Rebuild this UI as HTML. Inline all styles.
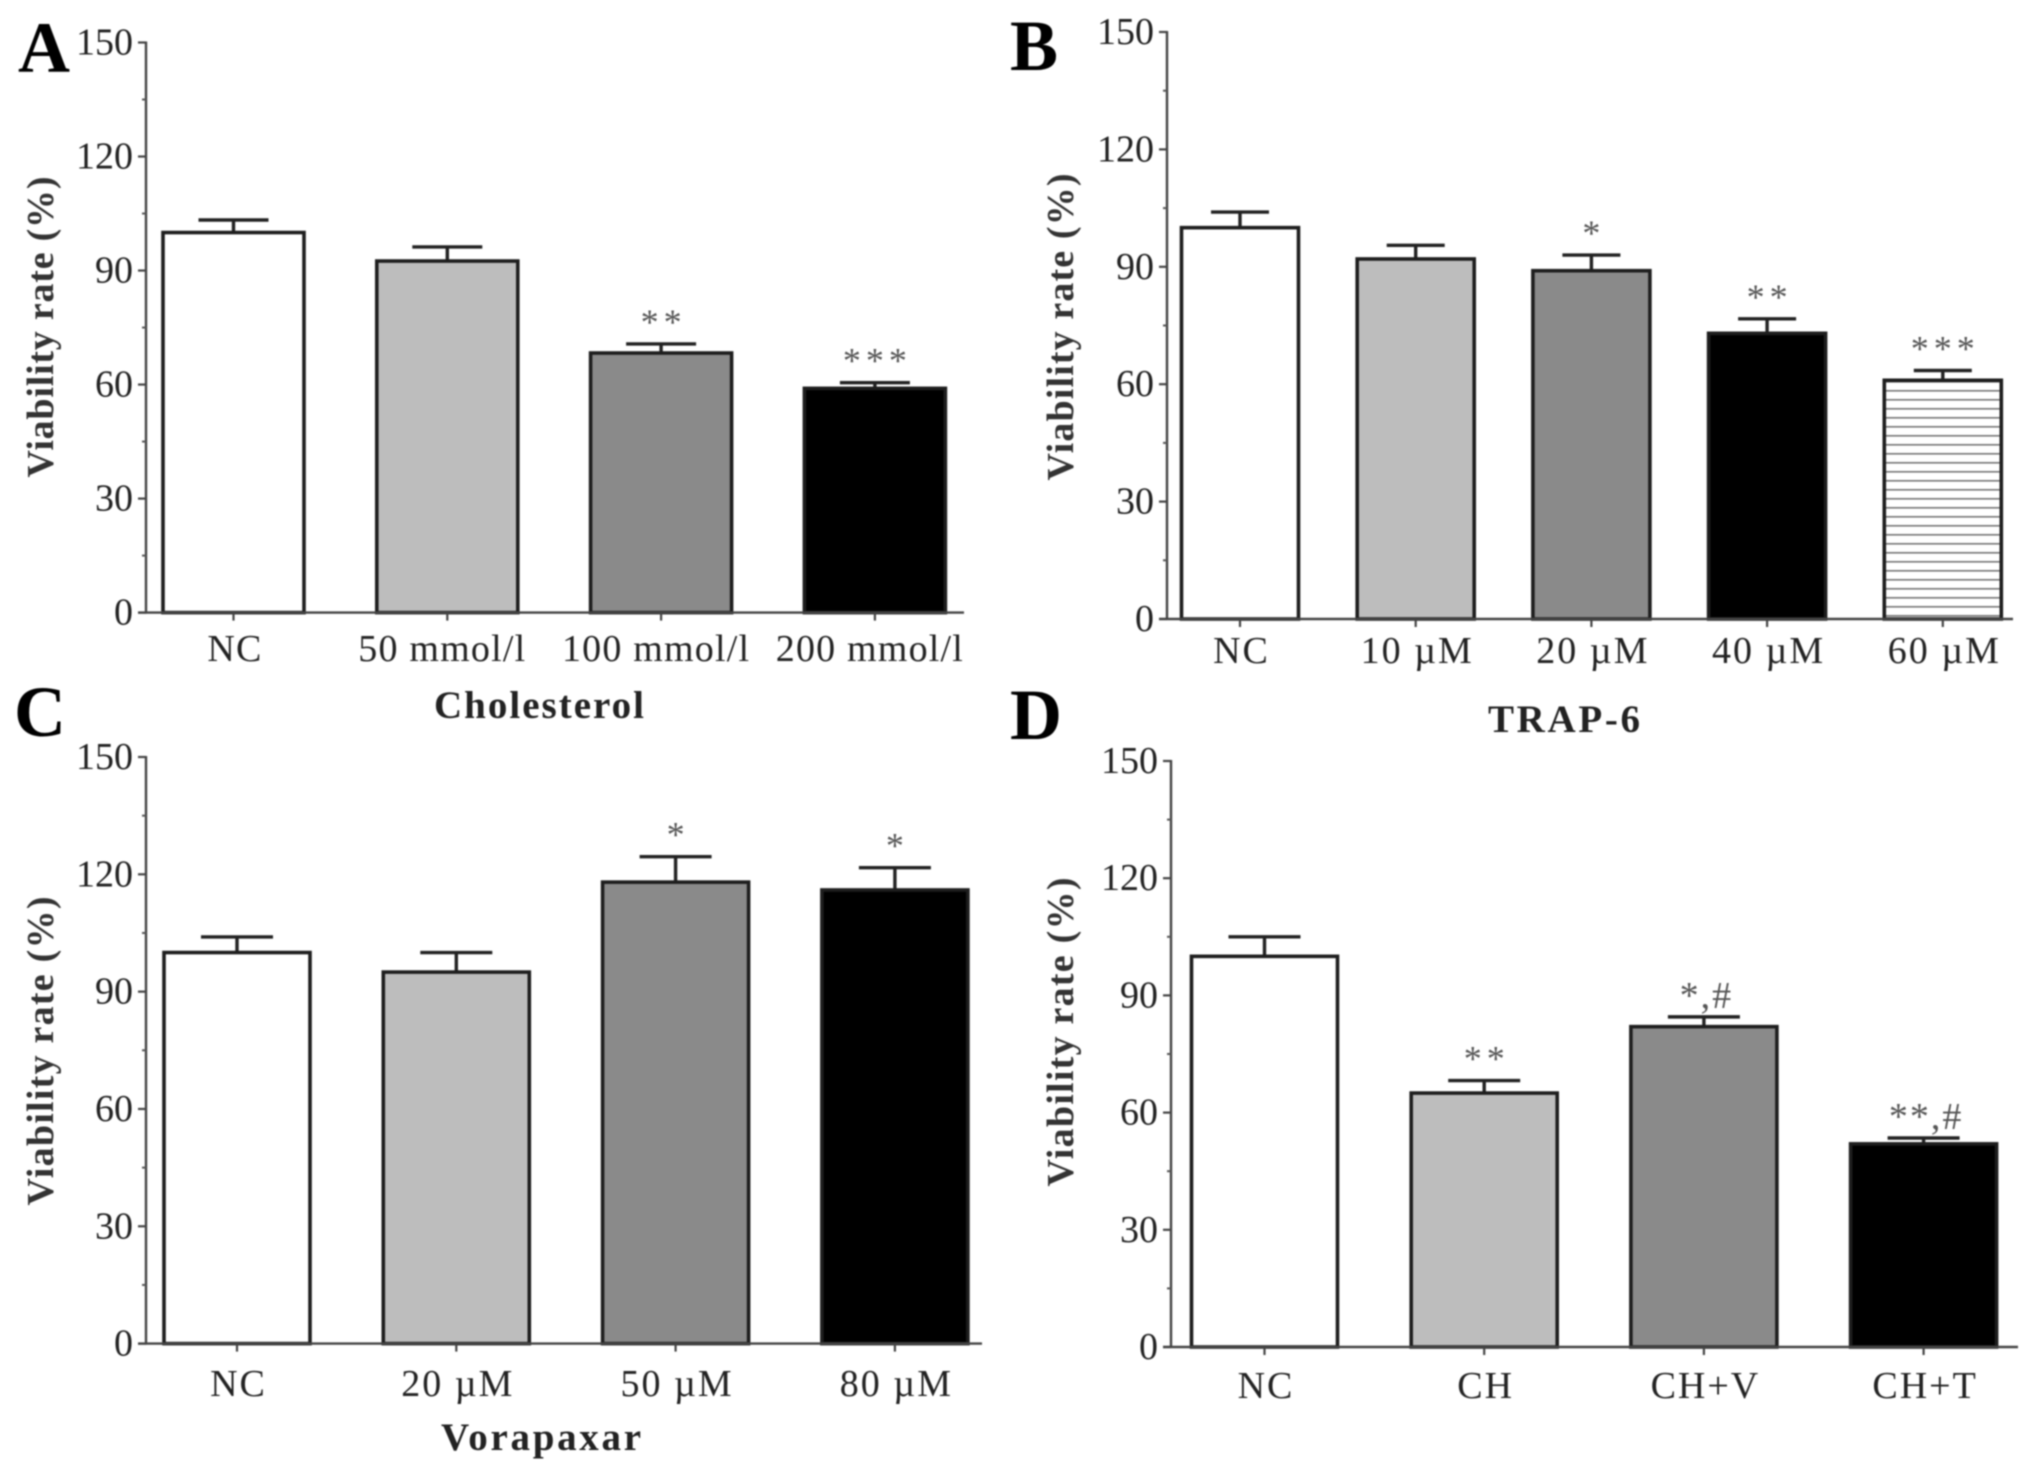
<!DOCTYPE html>
<html lang="en">
<head>
<meta charset="utf-8">
<title>Viability rate bar charts</title>
<style>
html,body{margin:0;padding:0;background:#fff;width:2031px;height:1473px;overflow:hidden}
svg{display:block;filter:blur(0.7px)}
text{font-family:"Liberation Serif",serif}
</style>
</head>
<body>
<svg id="fig" xmlns="http://www.w3.org/2000/svg" width="2031" height="1473" viewBox="0 0 2031 1473">
<defs>
<pattern id="hatch" patternUnits="userSpaceOnUse" width="9" height="9">
<rect width="9" height="9" fill="#ffffff"></rect>
<rect y="3" width="9" height="1.6" fill="#777777"></rect>
</pattern>
</defs>
</svg>
<script>
// Shared axis ticks
var yTickValues = [0, 30, 60, 90, 120, 150];
var yMinorTickValues = [15, 45, 75, 105, 135];

// Panel A
var categoriesA = ["NC", "50 mmol/l", "100 mmol/l", "200 mmol/l"];
var valuesA = [100, 92.5, 68.3, 59];
var errorsA = [3.3, 3.7, 2.4, 1.5];
var marksA = ["", "", "**", "***"];

// Panel B
var categoriesB = ["NC", "10 µM", "20 µM", "40 µM", "60 µM"];
var valuesB = [100, 92, 89, 73, 61];
var errorsB = [4, 3.5, 4, 3.7, 2.5];
var marksB = ["", "", "*", "**", "***"];

// Panel C
var categoriesC = ["NC", "20 µM", "50 µM", "80 µM"];
var valuesC = [100, 95, 118, 116];
var errorsC = [4, 5, 6.5, 5.7];
var marksC = ["", "", "*", "*"];

// Panel D
var categoriesD = ["NC", "CH", "CH+V", "CH+T"];
var valuesD = [100, 65, 82, 52];
var errorsD = [5, 3.2, 2.5, 1.5];
var marksD = ["", "**", "*,#", "**,#"];

var barFills = ["#ffffff", "#bdbdbd", "#8a8a8a", "#000000", "url(#hatch)"];

var panels = [
  {id:"a", letter:"A", letterX:18, letterY:72, axisX:146, y0:612.6, y150:42.5, right:964,
   first:233.5, step:213.8, barW:141, cats:categoriesA, vals:valuesA, errs:errorsA, marks:marksA,
   capHalf:35, labelY:661, labelFont:38, labelSpacing:1.2,
   yTitleX:53, yTitleY:327, yTitleLen:301, xTitle:"Cholesterol", xTitleX:539, xTitleY:718, xTitleLen:210},
  {id:"b", letter:"B", letterX:1010, letterY:70, axisX:1167, y0:619, y150:32, right:2013,
   first:1240, step:175.7, barW:117, cats:categoriesB, vals:valuesB, errs:errorsB, marks:marksB,
   capHalf:29, labelY:663, labelFont:38, labelSpacing:2,
   yTitleX:1073, yTitleY:327, yTitleLen:307, xTitle:"TRAP-6", xTitleX:1564, xTitleY:732, xTitleLen:152},
  {id:"c", letter:"C", letterX:14, letterY:736, axisX:146, y0:1343.6, y150:757, right:982,
   first:237, step:219.3, barW:146, cats:categoriesC, vals:valuesC, errs:errorsC, marks:marksC,
   capHalf:36, labelY:1396, labelFont:38, labelSpacing:2,
   yTitleX:53, yTitleY:1051, yTitleLen:309, xTitle:"Vorapaxar", xTitleX:541, xTitleY:1450, xTitleLen:200},
  {id:"d", letter:"D", letterX:1010, letterY:739, axisX:1171, y0:1347, y150:761, right:2018,
   first:1264.5, step:219.7, barW:146, cats:categoriesD, vals:valuesD, errs:errorsD, marks:marksD,
   capHalf:36, labelY:1398, labelFont:38, labelSpacing:2,
   yTitleX:1073, yTitleY:1032, yTitleLen:309, xTitle:"", xTitleX:0, xTitleY:0, xTitleLen:0}
];

var NS = "http://www.w3.org/2000/svg";
var INK = "#222222";
var fig = document.getElementById("fig");

function make(tag, attrs, parent, content) {
  var node = document.createElementNS(NS, tag);
  for (var k in attrs) node.setAttribute(k, attrs[k]);
  if (content !== undefined) node.textContent = content;
  parent.appendChild(node);
  return node;
}

function drawPanel(p) {
  var yScale = function (v) { return p.y0 - (v / 150) * (p.y0 - p.y150); };
  var xScale = function (i) { return p.first + i * p.step; };

  var g = make("g", {}, fig);
  
  

  var letter = make("text", {x:p.letterX, y:p.letterY, "font-size":72, "font-weight":"bold", fill:"#000"}, g, p.letter);
  
  

  // bars, error bars and significance marks
  p.vals.forEach(function (v, i) {
    var cx = xScale(i);
    var top = yScale(v);
    var errTop = yScale(v + p.errs[i]);

    var stem = make("line", {x1:cx, x2:cx, y1:top, y2:errTop, stroke:INK, "stroke-width":3.4}, g);
    
    

    var cap = make("line", {x1:cx - p.capHalf, x2:cx + p.capHalf, y1:errTop, y2:errTop, stroke:INK, "stroke-width":3.4}, g);
    
    

    var bar = make("rect", {x:cx - p.barW / 2, y:top, width:p.barW, height:p.y0 - top, fill:barFills[i], stroke:"#1e1e1e", "stroke-width":3.6}, g);
    
    

    if (p.marks[i]) {
      var hasHash = p.marks[i].indexOf("#") >= 0;
      var mark = make("text", {x:cx + 2.5, y:errTop - (hasHash ? 9 : 10), "font-size":hasHash ? 38 : 36, "text-anchor":"middle", "letter-spacing":hasHash ? 2 : 5, fill:"#555"}, g, p.marks[i]);
      
      
    }

    var tick = make("line", {x1:cx, x2:cx, y1:p.y0, y2:p.y0 + 8, stroke:"#444", "stroke-width":2.2}, g);
    
    

    var label = p.cats[i];
    var shift = label.length > 5 ? -5 : 1.5;
    var lab = make("text", {x:cx + shift, y:p.labelY, "font-size":p.labelFont, "text-anchor":"middle", "letter-spacing":p.labelSpacing, fill:INK}, g, label);
    
    
  });

  // axes
  var yAxis = make("line", {x1:p.axisX, x2:p.axisX, y1:p.y150 - 1, y2:p.y0 + 1, stroke:"#444", "stroke-width":2.4}, g);
  
  

  var xAxis = make("line", {x1:p.axisX - 8, x2:p.right, y1:p.y0, y2:p.y0, stroke:"#444", "stroke-width":2.4}, g);
  
  

  yTickValues.forEach(function (v) {
    var y = yScale(v);
    var t = make("line", {x1:p.axisX - 8, x2:p.axisX, y1:y, y2:y, stroke:"#444", "stroke-width":2.2}, g);
    
    

    var tl = make("text", {x:p.axisX - 13, y:y + 12, "font-size":38, "text-anchor":"end", fill:INK}, g, String(v));
    
    
  });

  yMinorTickValues.forEach(function (v) {
    var y = yScale(v);
    var mt = make("line", {x1:p.axisX - 4, x2:p.axisX, y1:y, y2:y, stroke:"#555", "stroke-width":2}, g);
    
    
  });

  // axis titles
  var yTitle = make("text", {x:0, y:0, transform:"translate(" + p.yTitleX + " " + p.yTitleY + ") rotate(-90)", "font-size":38, "font-weight":"bold", "text-anchor":"middle", textLength:p.yTitleLen, lengthAdjust:"spacing", fill:"#333"}, g, "Viability rate (%)");
  
  

  if (p.xTitle) {
    var xTitle = make("text", {x:p.xTitleX, y:p.xTitleY, "font-size":39, "font-weight":"bold", "text-anchor":"middle", textLength:p.xTitleLen, lengthAdjust:"spacing", fill:INK}, g, p.xTitle);
    
    
  }
}

panels.forEach(drawPanel);
</script>
</body>
</html>
